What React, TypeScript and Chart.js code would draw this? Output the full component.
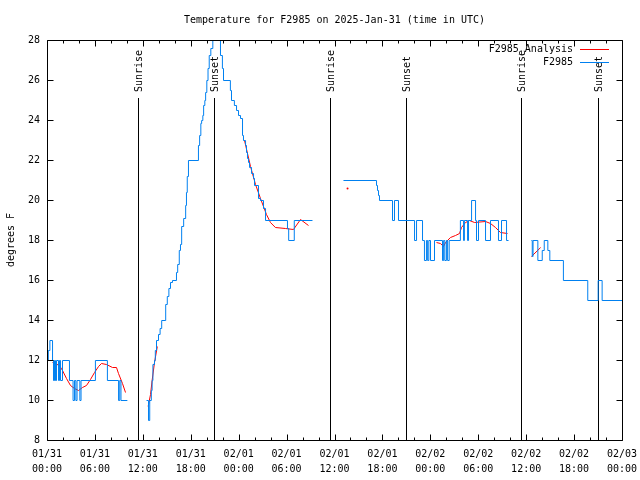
import React, { useEffect, useRef } from "react";
import { Chart, registerables } from "chart.js";

Chart.register(...registerables);

const TITLE = "Temperature for F2985 on 2025-Jan-31 (time in UTC)";
const Y_LABEL = "degrees F";
const SERIES_NAMES = ["F2985_Analysis", "F2985"];
const X_TICK_DATES = ["01/31", "01/31", "01/31", "01/31", "02/01", "02/01", "02/01", "02/01", "02/02", "02/02", "02/02", "02/02", "02/03"];
const X_TICK_TIMES = ["00:00", "06:00", "12:00", "18:00", "00:00", "06:00", "12:00", "18:00", "00:00", "06:00", "12:00", "18:00", "00:00"];
const Y_MIN = 8;
const Y_MAX = 28;
const X_MAX_HOURS = 72;

// hours since 01/31 00:00 UTC
const SUNRISE_HOURS = [11.39, 35.44, 59.35];
const SUNSET_HOURS = [20.91, 44.95, 69.0];

// Observed F2985 temperatures: [hours, degF] (value changes at given time)
const obsSeg1 = [[0, 12], [0.1, 12.5], [0.3, 13], [0.63, 12], [0.75, 11], [0.88, 12], [1.0, 11], [1.13, 12], [1.38, 11], [1.5, 12], [1.63, 11], [1.88, 12], [2.75, 11], [3.2, 10], [3.38, 11], [3.55, 10], [3.7, 11], [4.05, 10], [4.2, 11], [6.0, 12], [7.5, 11], [8.9, 10], [9.05, 11], [9.2, 10], [10.0, 10]];
const obsSeg2 = [[12.4, 10], [12.65, 9], [12.8, 10], [13.0, 10.5], [13.1, 11], [13.2, 11.8], [13.4, 12], [13.5, 12.5], [13.65, 13], [13.9, 13.3], [14.1, 13.6], [14.3, 14], [14.8, 14.8], [15.0, 15.2], [15.2, 15.6], [15.4, 15.9], [15.65, 16], [16.15, 16.4], [16.3, 16.8], [16.5, 17.5], [16.65, 17.8], [16.8, 18.7], [17.05, 19.1], [17.3, 19.75], [17.4, 20.4], [17.5, 21.2], [17.65, 22], [18.9, 22.75], [19.05, 23.25], [19.2, 23.85], [19.3, 24], [19.45, 24.25], [19.55, 24.75], [19.7, 25], [19.8, 25.4], [19.95, 26], [20.1, 26.6], [20.25, 27.25], [20.45, 27.6], [20.7, 29], [21.66, 27.25], [21.9, 26.6], [22.04, 26], [22.9, 25.5], [23.04, 25], [23.4, 24.75], [23.67, 24.5], [23.92, 24.25], [24.17, 24.1], [24.42, 23.25], [24.54, 23], [24.8, 22.75], [24.92, 22.4], [25.04, 22.1], [25.17, 21.9], [25.3, 21.65], [25.55, 21.35], [25.8, 21.1], [25.92, 20.75], [26.42, 20.1], [26.67, 20], [27.05, 19.6], [27.3, 19], [30.05, 18.6], [30.2, 18], [30.9, 19], [33.18, 19]];
const obsSeg3 = [[37.06, 21], [41.2, 20.75], [41.32, 20.5], [41.45, 20.25], [41.57, 20], [43.2, 19], [43.45, 20], [43.95, 19], [45.96, 18], [46.21, 19], [46.96, 18], [47.2, 17], [47.45, 18], [47.6, 17], [47.75, 18], [47.96, 17], [48.46, 18], [49.46, 17], [49.6, 18], [49.75, 17], [49.95, 18], [50.1, 17], [50.3, 18], [51.7, 19], [52.1, 18], [52.2, 19], [52.6, 18], [52.72, 19], [53.1, 20], [53.6, 19], [53.72, 18], [53.97, 19], [54.85, 18], [55.47, 19], [56.47, 18], [56.85, 19], [57.48, 18], [57.73, 18]];
const obsSeg4 = [[60.6, 18], [60.7, 17.2], [60.8, 18], [61.4, 17], [61.95, 17.5], [62.2, 18], [62.65, 17.5], [62.9, 17], [64.6, 16], [67.65, 15], [68.95, 16], [69.45, 15], [72, 15]];

// Analysis (smoothed) temperatures: [hours, degF]
const anaSeg1 = [[0.63, 11.9], [1.5, 11.75], [1.88, 11.5], [2.38, 11.1], [2.88, 10.75], [3.38, 10.6], [3.88, 10.5], [4.38, 10.65], [4.88, 10.75], [5.38, 11.05], [5.89, 11.4], [6.39, 11.7], [6.76, 11.85], [7.39, 11.8], [8.14, 11.65], [8.64, 11.65], [8.89, 11.35], [9.39, 10.85], [9.77, 10.4]];
const anaSeg2 = [[12.6, 9.7], [12.9, 10.3], [13.1, 11.0], [13.4, 11.9], [13.75, 12.7]];
const anaSeg3 = [[24.67, 23], [25.42, 21.7], [26.05, 20.8], [26.67, 20.1], [27.42, 19.3], [27.92, 18.9], [28.54, 18.65], [29.8, 18.6], [30.8, 18.55], [31.68, 19.05], [32.68, 18.75]];
const anaSeg4 = [[37.57, 20.6]];
const anaSeg5 = [[48.71, 17.9], [49.2, 17.85], [49.59, 17.7], [49.84, 17.9], [50.46, 18.15], [51.09, 18.25], [51.59, 18.35], [51.84, 18.65], [52.34, 18.9], [52.84, 19], [53.47, 18.9], [54.85, 18.95], [55.47, 18.85], [56.1, 18.65], [56.72, 18.4], [57.6, 18.35]];
const anaSeg6 = [[60.6, 17.2], [61.75, 17.65]];

const BLUE = "#0080f0";
const RED = "#ff0000";
const FONT = "'DejaVu Sans Mono', monospace";

function joinSegments(segs: number[][][]) {
  const out: { x: number; y: number | null }[] = [];
  segs.forEach((s, i) => {
    if (i > 0) {
      const prev = segs[i - 1];
      out.push({ x: (prev[prev.length - 1][0] + s[0][0]) / 2, y: null });
    }
    s.forEach(([x, y]) => out.push({ x, y }));
  });
  return out;
}

const framePlugin = {
  id: "gnuplotFrame",
  beforeDatasetDraw(chart: any) {
    chart.ctx.save();
    chart.ctx.translate(0.5, 0.5);
  },
  afterDatasetDraw(chart: any) {
    chart.ctx.restore();
  },
  beforeDatasetsDraw(chart: any) {
    const { ctx, chartArea, scales } = chart;
    const xs = scales.x;
    ctx.save();
    ctx.strokeStyle = "#000";
    ctx.lineWidth = 1;
    ctx.fillStyle = "#000";
    ctx.font = `10px ${FONT}`;
    const draw = (h: number, label: string) => {
      const px = Math.round(xs.getPixelForValue(h)) + 0.5;
      ctx.beginPath();
      ctx.moveTo(px, 98);
      ctx.lineTo(px, chartArea.bottom);
      ctx.stroke();
      ctx.save();
      ctx.translate(px + 1, 92);
      ctx.rotate(-Math.PI / 2);
      ctx.textAlign = "left";
      ctx.textBaseline = "middle";
      ctx.fillText(label, 0, 0);
      ctx.restore();
    };
    SUNRISE_HOURS.forEach((h) => draw(h, "Sunrise"));
    SUNSET_HOURS.forEach((h) => draw(h, "Sunset"));
    ctx.restore();
  },
  afterDraw(chart: any) {
    const { ctx, chartArea, scales } = chart;
    const { left, right, top, bottom } = chartArea;
    const xs = scales.x;
    const ys = scales.y;
    ctx.save();
    ctx.strokeStyle = "#000";
    ctx.lineWidth = 1;
    const L = Math.round(left) + 0.5;
    const R = Math.round(right) + 0.5;
    const T = Math.round(top) + 0.5;
    const B = Math.round(bottom) + 0.5;
    ctx.beginPath();
    ctx.rect(L, T, R - L, B - T);
    ctx.stroke();
    // x ticks (major every 6 h, minor every 2 h), inward on bottom and top
    ctx.beginPath();
    for (let h = 0; h <= X_MAX_HOURS; h += 2) {
      const px = Math.round(xs.getPixelForValue(h)) + 0.5;
      const len = h % 6 === 0 ? 6 : 3;
      ctx.moveTo(px, B);
      ctx.lineTo(px, B - len);
      ctx.moveTo(px, T);
      ctx.lineTo(px, T + len);
    }
    ys.ticks.forEach((t: any) => {
      const py = Math.round(ys.getPixelForValue(t.value)) + 0.5;
      ctx.moveTo(L, py);
      ctx.lineTo(L + 6, py);
      ctx.moveTo(R, py);
      ctx.lineTo(R - 6, py);
    });
    ctx.stroke();

    ctx.fillStyle = "#000";
    ctx.font = `10px ${FONT}`;
    ctx.textAlign = "center";
    ctx.textBaseline = "middle";
    ctx.fillText(TITLE, (left + right) / 2, 20);

    ctx.save();
    ctx.translate(11, (top + bottom) / 2);
    ctx.rotate(-Math.PI / 2);
    ctx.fillText(Y_LABEL, 0, 0);
    ctx.restore();

    // key
    const colors = [RED, BLUE];
    SERIES_NAMES.forEach((name, i) => {
      const y = 49 + i * 13;
      ctx.fillStyle = "#000";
      ctx.textAlign = "right";
      ctx.fillText(name, right - 49, y);
      ctx.strokeStyle = colors[i];
      ctx.beginPath();
      ctx.moveTo(right - 42, Math.round(y) + 0.5);
      ctx.lineTo(right - 13, Math.round(y) + 0.5);
      ctx.stroke();
    });
    ctx.restore();
  },
};

export default function App() {
  const canvasRef = useRef<HTMLCanvasElement | null>(null);

  useEffect(() => {
    const canvas = canvasRef.current;
    if (!canvas) return;
    const obsData = joinSegments([obsSeg1, obsSeg2, obsSeg3, obsSeg4]);
    const anaData = joinSegments([anaSeg1, anaSeg2, anaSeg3, anaSeg4, anaSeg5, anaSeg6]);
    const isolated = (ctx: any) => {
      const d = ctx.dataset.data;
      const i = ctx.dataIndex;
      const prev = d[i - 1];
      const next = d[i + 1];
      return (!prev || prev.y === null) && (!next || next.y === null) ? 1 : 0;
    };
    const chart = new Chart(canvas, {
      type: "line",
      data: {
        datasets: [
          {
            label: SERIES_NAMES[1],
            data: obsData,
            borderColor: BLUE,
            backgroundColor: BLUE,
            borderWidth: 1,
            pointRadius: 0,
            stepped: "before",
            spanGaps: false,
          },
          {
            label: SERIES_NAMES[0],
            data: anaData,
            borderColor: RED,
            backgroundColor: RED,
            borderWidth: 1,
            pointRadius: isolated,
            pointBorderWidth: 0,
            pointHoverRadius: 0,
            spanGaps: false,
          },
        ],
      },
      options: {
        animation: false,
        responsive: false,
        maintainAspectRatio: false,
        layout: { padding: { left: 0, right: 18, top: 40, bottom: 0 } },
        plugins: {
          legend: { display: false },
          title: { display: false },
          tooltip: { enabled: false },
        },
        events: [],
        scales: {
          x: {
            type: "linear",
            min: 0,
            max: X_MAX_HOURS,
            grid: { display: false, drawTicks: false },
            border: { display: false },
            ticks: {
              stepSize: 6,
              autoSkip: false,
              maxRotation: 0,
              minRotation: 0,
              padding: 6.5,
              color: "#000",
              font: { family: FONT, size: 10, lineHeight: 1.5 },
              callback: (v: any) => {
                const i = Math.round(Number(v) / 6);
                return [X_TICK_DATES[i], X_TICK_TIMES[i]];
              },
            },
            afterFit: (s: any) => {
              s.height = 40;
              s.paddingLeft = 0;
              s.paddingRight = 0;
            },
          },
          y: {
            min: Y_MIN,
            max: Y_MAX,
            grid: { display: false, drawTicks: false },
            border: { display: false },
            ticks: {
              stepSize: 2,
              padding: 7,
              color: "#000",
              font: { family: FONT, size: 10 },
            },
            afterFit: (s: any) => {
              s.width = 47;
              s.paddingTop = 0;
              s.paddingBottom = 0;
            },
          },
        },
      },
      plugins: [framePlugin],
    });
    return () => chart.destroy();
  }, []);

  return (
    <div style={{ position: "absolute", left: 0, top: 0, width: 640, height: 480, background: "#fff" }}>
      <canvas ref={canvasRef} width={640} height={480} style={{ width: 640, height: 480 }} />
    </div>
  );
}
